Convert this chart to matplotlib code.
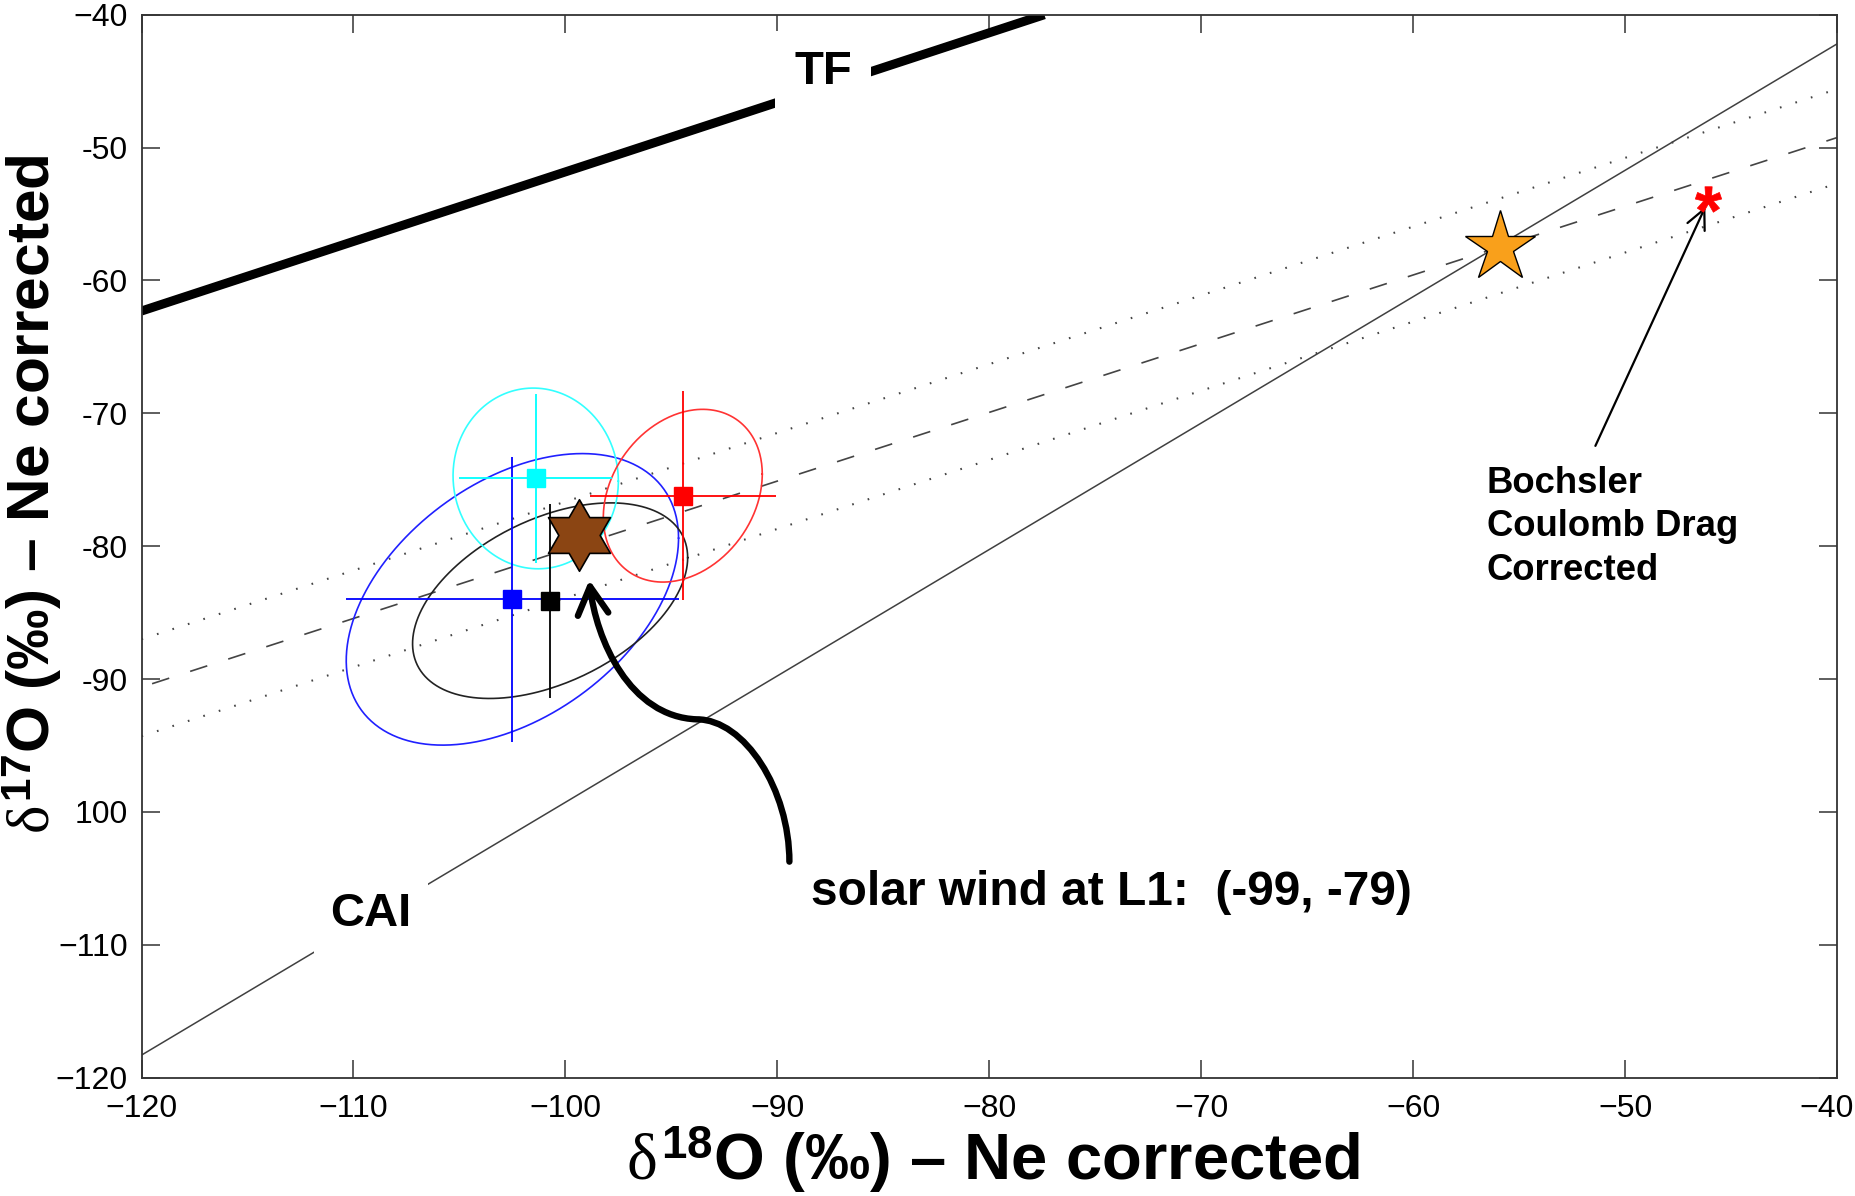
'''
Oxygen three-isotope plot of the Genesis solar wind data (Ne corrected),
with the TF and CAI lines, error ellipses and the L1 solar wind point.
'''

import numpy as np
import matplotlib.pyplot as plt
from matplotlib.path import Path
from matplotlib.patches import FancyArrowPatch
from matplotlib.textpath import TextPath
from matplotlib.font_manager import FontProperties
from matplotlib.transforms import ScaledTranslation

plt.rcParams['font.family'] = ['Liberation Sans', 'DejaVu Sans']
plt.rcParams['mathtext.fontset'] = 'custom'
plt.rcParams['mathtext.rm'] = 'Liberation Serif'
plt.rcParams['mathtext.it'] = 'Liberation Serif'
plt.rcParams['mathtext.bf'] = 'Liberation Sans:bold'

# axis ticks and their labels (as printed on the figure)
x_ticks = [-120, -110, -100, -90, -80, -70, -60, -50, -40]
x_labels = ['\u2212120', '\u2212110', '\u2212100', '\u221290', '\u221280',
            '\u221270', '\u221260', '\u221250', '\u221240']
y_ticks = [-120, -110, -100, -90, -80, -70, -60, -50, -40]
y_labels = ['\u2212120', '\u2212110', '100', '-90', '-80', '-70', '-60',
            '-50', '\u221240']

# reference lines (end points)
tf_x = [-120, -77.4]
tf_y = [-62.3, -40.0]
cai_x = [-120, -40]
cai_y = [-118.3, -42.2]
mix_x = [-119.5, -40]
mix_y = [-90.35, -49.25]
upper_x = [-120, -40]
upper_y = [-87.0, -45.6]
lower_x = [-120, -40]
lower_y = [-94.3, -52.7]

# measurements: centre, error bars, ellipse half extents and tilt
names = ['blue', 'black', 'cyan', 'red']
colors = ['#0000ff', 'k', '#00ffff', '#ff0000']
cx = [-102.5, -100.72, -101.4, -94.46]
cy = [-84.0, -84.1, -74.9, -76.2]
xerr = [7.85, 0.0, 3.6, 4.4]
yerr = [10.75, 7.3, 6.35, 7.85]
ell_sx = [7.84, 6.49, 3.9, 3.75]
ell_sy = [10.97, 7.36, 6.8, 6.5]
ell_rho = [0.42, 0.44, -0.03, 0.25]
ell_colors = ['#2020ff', '#222222', '#33ffff', '#ff3333']

sw_x, sw_y = -99.34, -79.15      # solar wind at L1
sun_x, sun_y = -55.89, -57.46    # orange star
boch_x, boch_y = -46.11, -53.89  # Bochsler corrected

fig = plt.figure(figsize=(18.56, 11.96), dpi=100)
ax = fig.add_axes([0.07624, 0.09891, 0.91352, 0.88880])

# lines
ax.plot(tf_x, tf_y, color='k', lw=6.5, solid_capstyle='butt', zorder=2)
ax.plot(cai_x, cai_y, color='#404040', lw=1.1, zorder=2)
ax.plot(mix_x, mix_y, color='#444444', lw=1.2, linestyle=(0, (10.8, 13.2)), zorder=2)
ax.plot(upper_x, upper_y, color='#444444', lw=1.5, linestyle=(0, (0.8, 7.0)), zorder=2)
ax.plot(lower_x, lower_y, color='#444444', lw=1.5, linestyle=(0, (0.8, 7.0)), zorder=2)

# ellipses
t = np.linspace(0, 2 * np.pi, 300)
for i in range(len(names)):
    ex = cx[i] + ell_sx[i] * np.cos(t)
    ey = cy[i] + ell_sy[i] * (ell_rho[i] * np.cos(t) + np.sqrt(1 - ell_rho[i] ** 2) * np.sin(t))
    ax.plot(ex, ey, color=ell_colors[i], lw=1.2, zorder=3)

# error bars with square markers (black under blue)
for i in [1, 0, 2, 3]:
    ax.errorbar(cx[i], cy[i], xerr=xerr[i], yerr=yerr[i], fmt='s',
                color=colors[i], ms=12.5, mec=colors[i], elinewidth=1.3,
                capsize=0, zorder=4)

# hexagram marker for the solar wind point
ang = np.deg2rad(90 + 30 * np.arange(12))
rad = np.where(np.arange(12) % 2 == 0, 1.0, 1 / np.sqrt(3))
hexv = np.column_stack([rad * np.cos(ang), rad * np.sin(ang)])
hexv = np.vstack([hexv, hexv[:1]])
hexagram = Path(hexv, [Path.MOVETO] + [Path.LINETO] * 11 + [Path.CLOSEPOLY])
ax.plot(sw_x, sw_y, marker=hexagram, ms=51.5, mfc='#8B4513', mec='k',
        mew=1.2, linestyle='none', zorder=6)

ax.plot(sun_x, sun_y, marker='*', ms=53, mfc='#F9A01B', mec='k', mew=1.0,
        linestyle='none', zorder=6)

# red asterisk as a glyph marker (centred, close points fixed)
ast = TextPath((0, 0), '*', prop=FontProperties(family='Liberation Sans', weight='bold'))
verts = ast.vertices.copy()
codes = ast.codes
start = 0
for k in range(len(codes)):
    if codes[k] == Path.MOVETO:
        start = k
    elif codes[k] == Path.CLOSEPOLY:
        verts[k] = verts[start]
good = verts[codes != Path.CLOSEPOLY]
mid = (good.min(axis=0) + good.max(axis=0)) / 2
ast = Path(verts - mid, codes)
ax.plot(boch_x, boch_y, marker=ast, ms=19, color='#ff0000', mec='#ff0000',
        mew=0.5, linestyle='none', zorder=6)

# labels on the lines
ax.text(-87.85, -44.35, 'TF', fontsize=34, fontweight='bold', ha='center',
        va='center', zorder=5,
        bbox=dict(facecolor='white', edgecolor='none', pad=14))
ax.text(-109.17, -107.68, 'CAI', fontsize=34, fontweight='bold', ha='center',
        va='center', zorder=5,
        bbox=dict(facecolor='white', edgecolor='none', pad=12))

# Bochsler annotation
ax.text(-56.52, -73.95, 'Bochsler\nCoulomb Drag\nCorrected', fontsize=26.3,
        fontweight='bold', ha='left', va='top', linespacing=1.31, zorder=5)
ax.annotate('', xy=(-46.21, -54.45), xytext=(-51.4, -72.45),
            arrowprops=dict(arrowstyle='->,head_length=0.71,head_width=0.34',
                            lw=1.6, color='k', shrinkA=0, shrinkB=0,
                            mutation_scale=20), zorder=5)

# solar wind annotation with curved arrow
ax.text(-88.41, -107.0, 'solar wind at L1:  (-99, -79)', fontsize=34.5,
        fontweight='bold', ha='left', va='baseline', zorder=5)
curve = Path([(-89.43, -103.74), (-89.43, -98.35), (-91.53, -93.03), (-93.80, -93.03),
              (-96.95, -92.85), (-98.56, -87.06), (-98.87, -82.54)],
             [Path.MOVETO, Path.CURVE4, Path.CURVE4, Path.CURVE4,
              Path.CURVE4, Path.CURVE4, Path.CURVE4])
arr = FancyArrowPatch(path=curve, arrowstyle='->,head_length=1.0,head_width=0.55',
                      mutation_scale=20, lw=4.6, color='k',
                      joinstyle='round', zorder=5, transform=ax.transData)
ax.add_patch(arr)

ax.set_xlim(-120, -40)
ax.set_ylim(-120, -40)
ax.set_xticks(x_ticks)
ax.set_xticklabels(x_labels)
ax.set_yticks(y_ticks)
ax.set_yticklabels(y_labels)
ax.tick_params(direction='in', length=13, width=1.1, labelsize=23,
               top=True, right=True, color='#333333')
ax.tick_params(axis='x', pad=12)
ax.tick_params(axis='y', pad=10)
for sp in ax.spines.values():
    sp.set_linewidth(1.3)
    sp.set_color('#333333')

# last x label sits a bit left of its tick so it stays inside the figure
last = ax.xaxis.get_major_ticks()[-1].label1
last.set_transform(last.get_transform() + ScaledTranslation(-10 / 100, 0, fig.dpi_scale_trans))

fig.text(0.535, 0.0301, '$\\delta^{\\mathbf{18}}$O (‰) \u2013 Ne corrected',
         fontsize=47, fontweight='bold', ha='center', va='center')
fig.text(0.0178, 0.587, '$\\delta^{\\mathbf{17}}$O (‰) \u2013 Ne corrected',
         fontsize=43.5, fontweight='bold', ha='center', va='center', rotation=90)

fig.savefig('out.png', dpi=100)
